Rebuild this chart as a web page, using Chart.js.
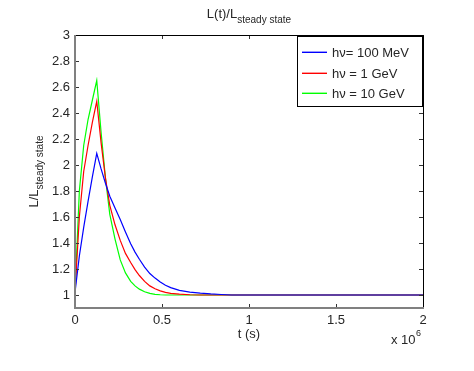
<!DOCTYPE html>
<html>
<head>
<meta charset="utf-8">
<script src="https://cdn.jsdelivr.net/npm/chart.js@4"></script>
<style>
  html, body { margin: 0; padding: 0; background: #fff; }
  #wrap { width: 474px; height: 371px; position: relative; }
</style>
</head>
<body>
<div id="wrap"><canvas id="c" width="474" height="371"></canvas></div>
<script>
// time in units of 1e6 s
const tVals  = [0, 0.025, 0.05, 0.075, 0.1, 0.125, 0.15, 0.175, 0.2, 0.23, 0.26, 0.29, 0.32, 0.345, 0.37, 0.4, 0.43, 0.46, 0.49, 0.52, 0.55, 0.6, 0.66, 0.72, 0.78, 0.84, 0.9, 1.0, 1.5, 2.0];
const lBlue  = [1.02, 1.3, 1.52, 1.72, 1.91, 2.09, 1.97, 1.86, 1.76, 1.67, 1.58, 1.485, 1.395, 1.33, 1.275, 1.215, 1.165, 1.13, 1.1, 1.075, 1.057, 1.036, 1.022, 1.014, 1.008, 1.004, 1.0, 1.0, 1.0, 1.0];
const lRed   = [1.02, 1.6, 1.95, 2.15, 2.33, 2.49, 2.17, 1.9, 1.69, 1.54, 1.42, 1.32, 1.25, 1.195, 1.15, 1.105, 1.07, 1.048, 1.032, 1.02, 1.013, 1.006, 1.002, 1.0, 1.0, 1.0, 1.0, 1.0, 1.0, 1.0];
const lGreen = [1.02, 1.8, 2.15, 2.35, 2.5, 2.65, 2.25, 1.9, 1.62, 1.43, 1.27, 1.17, 1.105, 1.07, 1.045, 1.025, 1.012, 1.005, 1.002, 1.0, 1.0, 1.0, 1.0, 1.0, 1.0, 1.0, 1.0, 1.0, 1.0, 1.0];

const seriesNames = ['h\u03bd= 100 MeV', 'h\u03bd = 1 GeV', 'h\u03bd = 10 GeV'];
const seriesColors = ['rgb(0,0,255)', 'rgb(255,0,0)', 'rgb(0,255,0)'];

const xTicks = [0, 0.5, 1, 1.5, 2];
const yTicks = [1, 1.2, 1.4, 1.6, 1.8, 2, 2.2, 2.4, 2.6, 2.8, 3];

const FONT = '"Liberation Sans", Arial, Helvetica, sans-serif';
const TXT = '#262626';
const pts = ls => tVals.map((t, i) => ({ x: t, y: ls[i] }));

// frame, inner ticks, title, axis labels, legend
const matlabLook = {
  id: 'matlabLook',
  afterDraw(chart) {
    const { ctx, chartArea: a, scales: { x, y } } = chart;
    ctx.save();

    // inner tick marks
    ctx.strokeStyle = '#333';
    ctx.lineWidth = 1;
    ctx.beginPath();
    xTicks.forEach(v => {
      const px = Math.round(x.getPixelForValue(v)) + 0.5;
      ctx.moveTo(px, a.bottom); ctx.lineTo(px, a.bottom - 4);
      ctx.moveTo(px, a.top);    ctx.lineTo(px, a.top + 4);
    });
    yTicks.forEach(v => {
      const py = Math.round(y.getPixelForValue(v)) + 0.5;
      ctx.moveTo(a.left, py);  ctx.lineTo(a.left + 4, py);
      ctx.moveTo(a.right, py); ctx.lineTo(a.right - 4, py);
    });
    ctx.stroke();

    // box
    ctx.strokeStyle = '#000';
    ctx.lineWidth = 1;
    ctx.beginPath();
    ctx.moveTo(a.left, a.top + 0.5); ctx.lineTo(a.right + 0.5, a.top + 0.5);
    ctx.lineTo(a.right + 0.5, a.bottom);
    ctx.stroke();
    ctx.strokeStyle = '#808080';
    ctx.lineWidth = 2;
    ctx.beginPath();
    ctx.moveTo(a.left, a.top); ctx.lineTo(a.left, a.bottom);
    ctx.lineTo(a.right + 1, a.bottom);
    ctx.stroke();

    ctx.fillStyle = TXT;
    ctx.textBaseline = 'alphabetic';

    // title
    const cx = (a.left + a.right) / 2;
    ctx.font = '13px ' + FONT;
    const mainW = ctx.measureText('L(t)/L').width;
    ctx.font = '10px ' + FONT;
    const subW = ctx.measureText('steady state').width;
    let tx = cx - (mainW + subW) / 2;
    ctx.font = '13px ' + FONT;
    ctx.textAlign = 'left';
    ctx.fillText('L(t)/L', tx, 18);
    ctx.font = '10px ' + FONT;
    ctx.fillText('steady state', tx + mainW, 23);

    // y label
    ctx.save();
    ctx.translate(38, (a.top + a.bottom) / 2);
    ctx.rotate(-Math.PI / 2);
    ctx.font = '13px ' + FONT;
    const ym = ctx.measureText('L/L').width;
    tx = -(ym + subW) / 2;
    ctx.fillText('L/L', tx, 0);
    ctx.font = '10px ' + FONT;
    ctx.fillText('steady state', tx + ym, 5);
    ctx.restore();

    // x label
    ctx.font = '13px ' + FONT;
    ctx.textAlign = 'center';
    ctx.fillText('t (s)', cx, 338);
    ctx.textAlign = 'left';
    ctx.fillText('x 10', 391, 344);
    ctx.font = '9px ' + FONT;
    ctx.fillText('6', 416, 336);

    // legend
    const lx = 297, ly = 36, lw = 125, lh = 70;
    ctx.fillStyle = '#fff';
    ctx.fillRect(lx, ly, lw, lh);
    ctx.strokeStyle = '#000';
    ctx.lineWidth = 1;
    ctx.strokeRect(lx + 0.5, ly + 0.5, lw, lh);
    ctx.font = '13px ' + FONT;
    ctx.textBaseline = 'middle';
    for (let i = 0; i < seriesNames.length; i++) {
      const ry = Math.round(52 + i * 20.5);
      ctx.strokeStyle = seriesColors[i];
      ctx.lineWidth = 1.4;
      ctx.beginPath();
      ctx.moveTo(302, ry + 0.3);
      ctx.lineTo(327, ry + 0.3);
      ctx.stroke();
      ctx.fillStyle = TXT;
      ctx.fillText(seriesNames[i], 332, ry + 1);
    }
    ctx.restore();
  }
};

new Chart(document.getElementById('c'), {
  type: 'line',
  data: {
    datasets: [lBlue, lRed, lGreen].map((ls, i) => ({
      label: seriesNames[i],
      data: pts(ls),
      borderColor: seriesColors[i],
      borderWidth: 1.2,
      pointRadius: 0,
      tension: 0,
      fill: false,
    })),
  },
  options: {
    responsive: false,
    animation: false,
    layout: { padding: { left: 0, right: 51, top: 35, bottom: 0 } },
    plugins: { legend: { display: false }, title: { display: false }, tooltip: { enabled: false } },
    scales: {
      x: {
        type: 'linear',
        min: 0, max: 2,
        afterBuildTicks: s => { s.ticks = xTicks.map(v => ({ value: v })); },
        afterFit: s => { s.height = 63; },
        grid: { display: false, drawTicks: false },
        border: { display: false },
        ticks: { color: TXT, font: { family: FONT, size: 13 }, padding: 5, maxRotation: 0,
                 callback: v => String(v) },
      },
      y: {
        min: 0.9, max: 3,
        afterBuildTicks: s => { s.ticks = yTicks.map(v => ({ value: v })); },
        afterFit: s => { s.width = 75; },
        grid: { display: false, drawTicks: false },
        border: { display: false },
        ticks: { color: TXT, font: { family: FONT, size: 13 }, padding: 5,
                 callback: v => String(Math.round(v * 10) / 10) },
      },
    },
  },
  plugins: [matlabLook],
});
</script>
</body>
</html>
